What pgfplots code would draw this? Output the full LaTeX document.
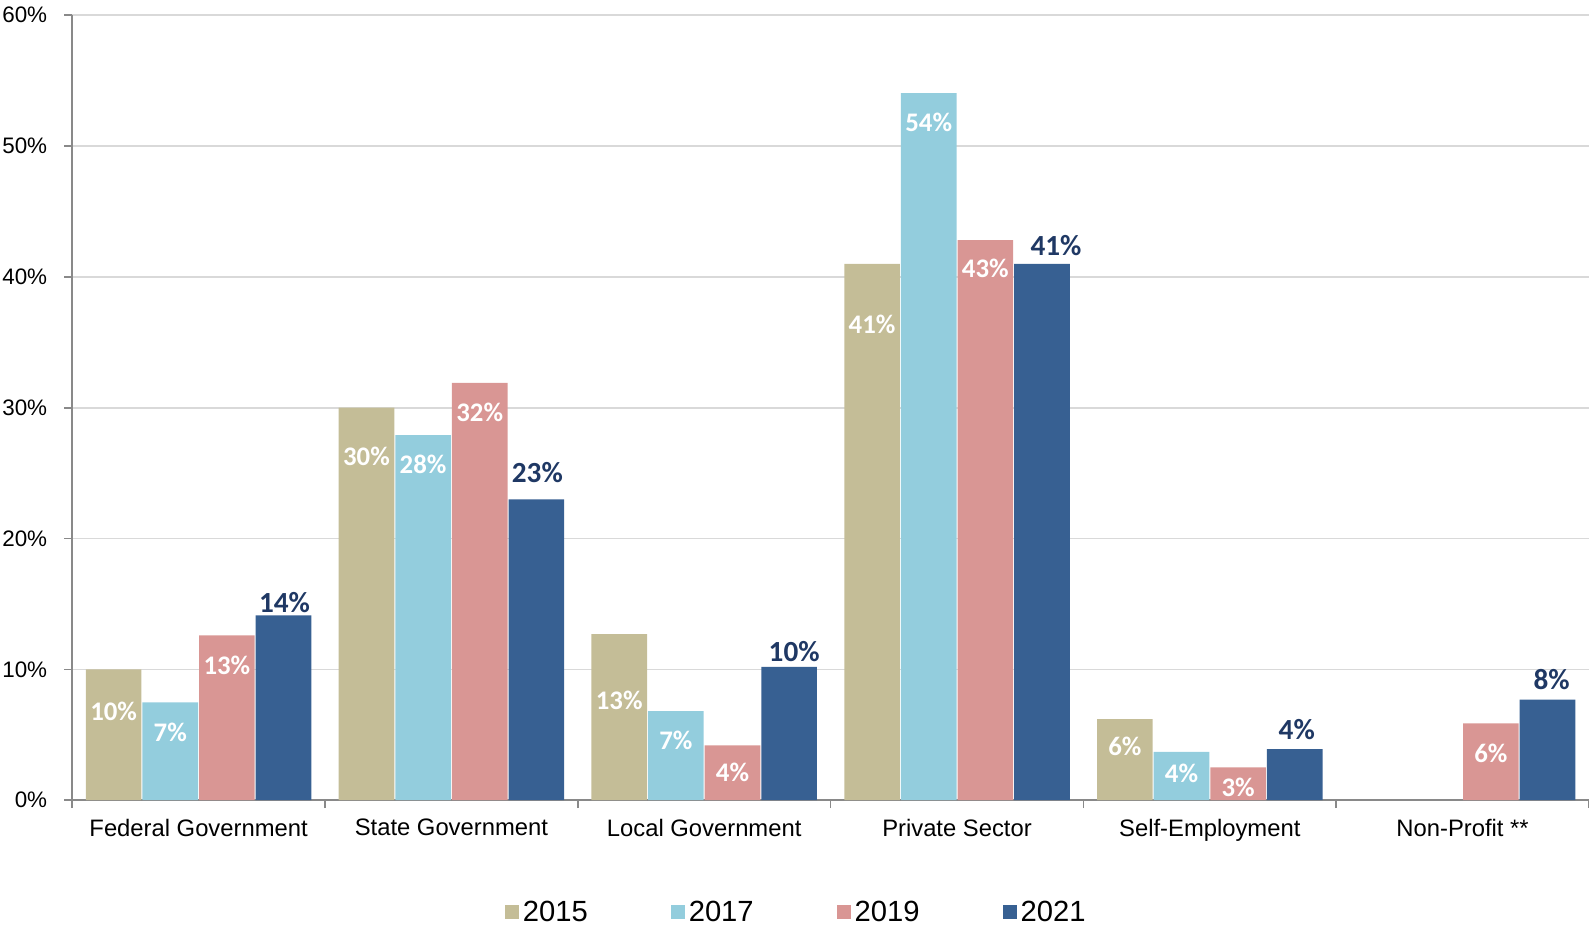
\documentclass[border=0pt]{standalone}
\usepackage{fontspec}
\setmainfont{Liberation Sans}
\newfontfamily\carlito{Carlito}
\usepackage{pgfplots}
\usepackage{pgfplotstable}
\pgfplotsset{compat=1.18}
\definecolor{cA}{HTML}{C4BD97}
\definecolor{cB}{HTML}{93CDDD}
\definecolor{cC}{HTML}{D99694}
\definecolor{cD}{HTML}{376092}
\definecolor{navy}{HTML}{1F3864}
\definecolor{gridgray}{HTML}{D9D9D9}
\definecolor{axisgray}{HTML}{898989}

\pgfplotstableread{
x y off lab
0 10.0 -20.8 10
1 30.0 -24.3 30
2 12.7 -33.4 13
3 41.0 -30.4 41
4 6.2 -13.7 6
}\tA
\pgfplotstableread{
x y off lab
0 7.47 -15.0 7
1 27.9 -14.5 28
2 6.8 -14.7 7
3 54.05 -14.5 54
4 3.7 -10.6 4
}\tB
\pgfplotstableread{
x y off lab
0 12.6 -15.0 13
1 31.9 -14.7 32
2 4.2 -13.7 4
3 42.8 -14.2 43
4 2.5 -10.1 3
5 5.88 -15.0 6
}\tC
\pgfplotstableread{
x y off xoff lab
0 14.13 6.6 0.5 14
1 23.0 13.4 0.5 23
2 10.2 7.4 2.5 10
3 41.0 9.2 7.0 41
4 3.9 9.9 1.0 4
5 7.69 9.8 2.0 8
}\tD

\pgfplotsset{
  mybar/.style={draw=none, fill=#1,
    legend image code/.code={\fill[#1] (0pt,-3.5pt) rectangle (7pt,3.5pt);},
    point meta=explicit symbolic,
    nodes near coords={\pgfplotspointmeta\%},
    visualization depends on={\thisrow{off}\as\myoff},
    every node near coord/.append style={anchor=center, yshift=\myoff pt,
      font=\carlito\bfseries\fontsize{13.4}{15}\selectfont, text=white, inner sep=0pt},
  },
}

\begin{document}
\begin{tikzpicture}
\useasboundingbox (-36.1pt,-63pt) rectangle (758.4pt,400.1pt);
\begin{axis}[
  scale only axis,
  width=758.4pt, height=392.5pt,
  ybar, bar width=0.22,
  xmin=-0.5, xmax=5.5, ymin=0, ymax=60,
  axis lines=left,
  axis line style={-, draw=axisgray, line width=0.8pt},
  ytick={0,10,...,60},
  yticklabels={0\%,10\%,20\%,30\%,40\%,50\%,60\%},
  ymajorgrids,
  major grid style={draw=gridgray, line width=0.8pt},
  xtick={0,...,5},
  xticklabels={Federal Government, State Government, Local Government, Private Sector, Self-Employment, Non-Profit **},
  minor xtick={-0.5,0.5,...,5.5},
  major x tick style={draw=none},
  minor x tick style={draw=axisgray, line width=0.8pt},
  ytick style={draw=axisgray, line width=0.8pt},
  tick align=outside,
  major tick length=4pt, minor tick length=4pt,
  yticklabel style={font=\fontsize{11.2}{13}\selectfont, xshift=-5pt},
  xticklabel style={font=\fontsize{11.9}{14}\selectfont, yshift=-2pt},
  legend style={at={(0.478,-0.1428)}, anchor=center, draw=none,
    font=\fontsize{14.6}{16}\selectfont, legend columns=4,
    /tikz/every even column/.append style={column sep=39.5pt}},
  clip=false,
]
\addplot[mybar=cA, bar shift=-0.336] table[x=x, y=y, meta=lab] {\tA};
\addlegendentry{2015}
\addplot[mybar=cB, bar shift=-0.112] table[x=x, y=y, meta=lab] {\tB};
\addlegendentry{2017}
\addplot[mybar=cC, bar shift=0.112] table[x=x, y=y, meta=lab] {\tC};
\addlegendentry{2019}
\addplot[mybar=cD, bar shift=0.336,
  visualization depends on={\thisrow{xoff}\as\myxoff},
  every node near coord/.append style={text=navy, xshift=\myxoff pt,
    font=\carlito\bfseries\fontsize{14.6}{16}\selectfont}] table[x=x, y=y, meta=lab] {\tD};
\addlegendentry{2021}
\end{axis}
\end{tikzpicture}
\end{document}
